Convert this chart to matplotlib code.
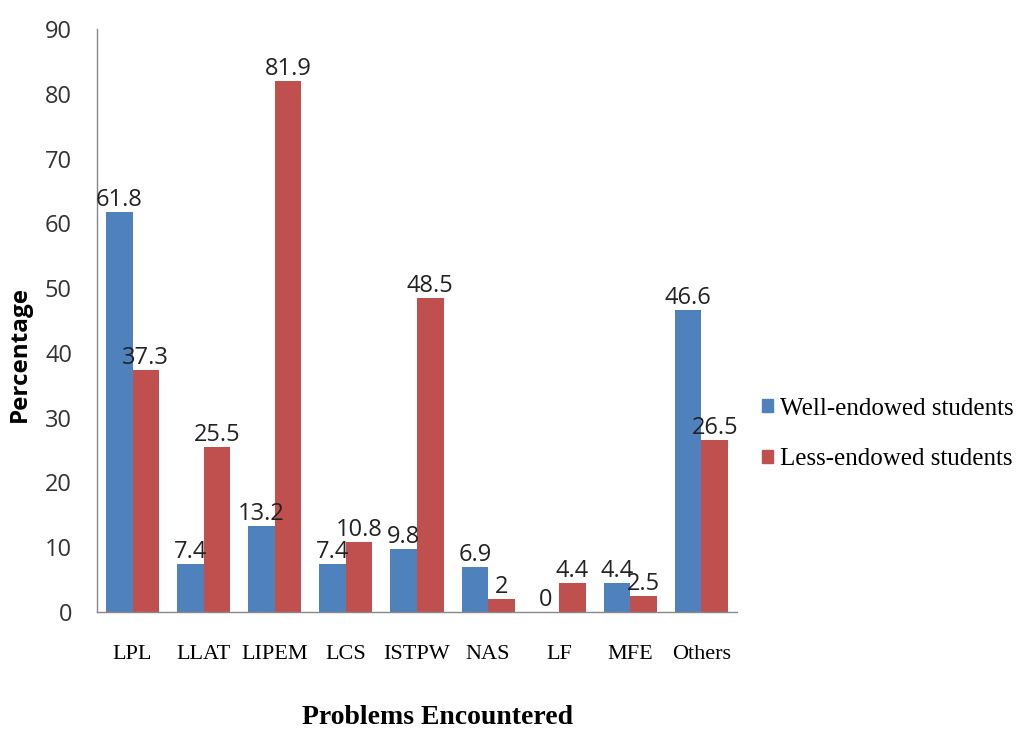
import matplotlib
matplotlib.use("Agg")
import matplotlib.pyplot as plt
from matplotlib.patches import Patch
import numpy as np

categories = ["LPL", "LLAT", "LIPEM", "LCS", "ISTPW", "NAS", "LF", "MFE", "Others"]
well_endowed = [61.8, 7.4, 13.2, 7.4, 9.8, 6.9, 0, 4.4, 46.6]
less_endowed = [37.3, 25.5, 81.9, 10.8, 48.5, 2, 4.4, 2.5, 26.5]
series_names = ["Well-endowed students", "Less-endowed students"]
yticks = [0, 10, 20, 30, 40, 50, 60, 70, 80, 90]

blue = "#4F81BD"
red = "#C0504D"

fig = plt.figure(figsize=(10.19, 7.31), dpi=100)
ax = fig.add_axes([97/1019, 1-612/731, (737-97)/1019, (612-29)/731])

x = np.arange(len(categories))
w = 0.373
b1 = ax.bar(x - w/2, well_endowed, w, color=blue)
b2 = ax.bar(x + w/2, less_endowed, w, color=red)

sans = "Open Sans"
serif = "Liberation Serif"

def fmt(v):
    return ("%g" % v)

for bars, vals in ((b1, well_endowed), (b2, less_endowed)):
    for r, v in zip(bars, vals):
        ax.text(r.get_x() + r.get_width()/2, v, fmt(v), ha="center", va="bottom",
                fontsize=17, family=sans, color="#222222")

ax.set_xlim(-0.5, len(categories) - 0.5)
ax.set_ylim(0, 90)
ax.set_yticks(yticks)
ax.set_yticklabels([str(t) for t in yticks], family=sans, fontsize=17, color="#333333")
ax.set_xticks(x)
ax.set_xticklabels(categories, family=serif, fontsize=16)
ax.tick_params(axis="y", length=0, pad=18)
ax.tick_params(axis="x", length=0, pad=24)
for s in ("top", "right"):
    ax.spines[s].set_visible(False)
for s in ("left", "bottom"):
    ax.spines[s].set_color("#888888")
    ax.spines[s].set_linewidth(1.0)

fig.text(20/1019, 1-354/731, "Percentage", rotation=90, ha="center", va="center",
         fontsize=17.5, fontweight="bold", family=sans)
fig.text(438/1019, 1-718/731, "Problems Encountered", ha="center", va="center",
         fontsize=20, fontweight="bold", family=serif)

handles = [Patch(color=blue), Patch(color=red)]
leg = fig.legend(handles, series_names, loc="center left",
                 bbox_to_anchor=(762/1019, 1-434/731), frameon=False,
                 prop={"family": serif, "size": 18}, handlelength=0.45,
                 handleheight=0.45, handletextpad=0.25, labelspacing=1.15,
                 borderpad=0, borderaxespad=0)

fig.savefig("out.png", dpi=100)
